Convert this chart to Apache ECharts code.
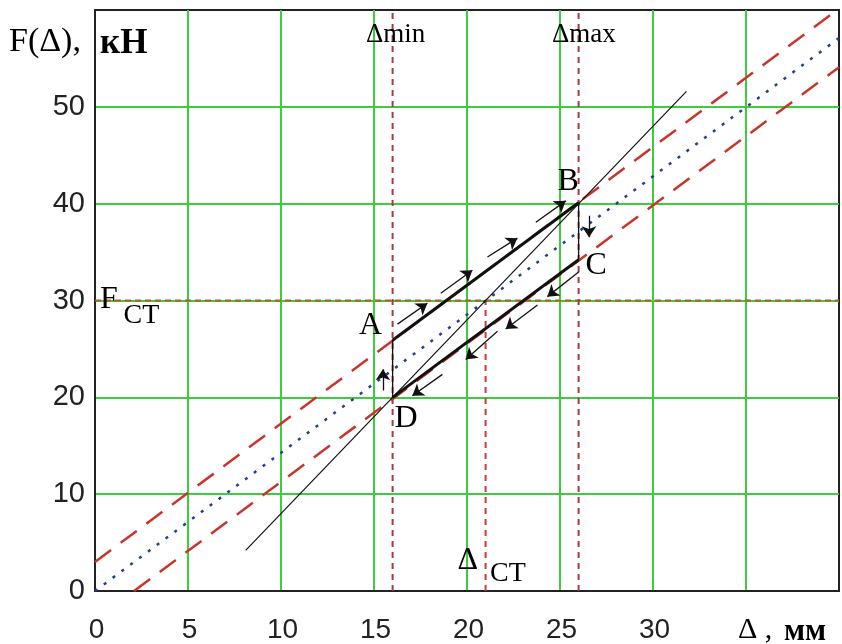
<!DOCTYPE html>
<html>
<head>
<meta charset="utf-8">
<script src="https://cdn.jsdelivr.net/npm/echarts@6/dist/echarts.min.js"></script>
<style>
html,body{margin:0;padding:0;background:#fff;}
#c{width:842px;height:644px;}
</style>
</head>
<body>
<div id="c"></div>
<script>
// ---- data ----
const xTicks = [0, 5, 10, 15, 20, 25, 30];
const yTicks = [0, 10, 20, 30, 40, 50];
const blueLine = [[0, 0], [40, 57.1]];
const redUpper = [[0, 3], [39.9, 60]];
const redLower = [[2.1, 0], [40, 54.1]];
const stiffLine = [[8.1, 4.2], [31.8, 51.6]];
const lineAB = [[16, 25.9], [26, 40.1]];
const lineCD = [[26, 34.2], [16, 20.0]];
const lineAD = [[16, 20.0], [16, 25.9]];
const lineBC = [[26, 40.1], [26, 34.2]];
const deltaMinLine = [[16, 0], [16, 60]];
const deltaMaxLine = [[26, 0], [26, 60]];
const deltaStLine = [[21, 0], [21, 30]];
const fStLine = [[0, 30], [40, 30]];
const arrowsUp = [
  [[16.26, 27.56], [17.87, 29.71]],
  [[18.59, 30.74], [20.29, 33.12]],
  [[21.10, 34.49], [22.71, 36.44]],
  [[23.70, 38.08], [25.31, 40.29]]
];
const arrowsDown = [
  [[26.02, 32.96], [24.32, 30.40]],
  [[23.79, 29.54], [22.08, 27.05]],
  [[21.64, 26.82], [19.93, 23.91]],
  [[18.68, 22.37], [17.06, 20.16]]
];
const arrowsVertical = [
  [[15.48, 20.71], [15.48, 22.89]],
  [[26.56, 38.75], [26.56, 36.54]]
];
const pointLabels = [
  ['A', 14.82, 27.36],
  ['B', 25.44, 42.33],
  ['C', 26.95, 33.63],
  ['D', 16.73, 17.79]
];
const lineLabels = [
  ['Δmin', 16.16, 57.4, 27],
  ['Δmax', 26.28, 57.4, 27],
  ['F', 0.75, 30.07, 32],
  ['CT', 2.5, 28.43, 28],
  ['Δ', 20.04, 3.10, 32],
  ['CT', 22.2, 1.82, 28]
];

const serif = '"Liberation Serif", "DejaVu Serif", serif';
const sans = '"Liberation Sans", "DejaVu Sans", sans-serif';

function seg(name, data, color, width, type, z) {
  return {
    name: name, type: 'line', data: data, showSymbol: false, symbol: 'none',
    lineStyle: { color: color, width: width, type: type },
    silent: true, animation: false, z: z || 2
  };
}

const chart = echarts.init(document.getElementById('c'), null, { renderer: 'canvas' });
chart.setOption({
  animation: false,
  backgroundColor: '#fff',
  grid: {
    left: 95, right: 2, top: 10, bottom: 49,
    show: true, borderColor: '#222', borderWidth: 2, backgroundColor: '#fff'
  },
  xAxis: {
    type: 'value', min: 0, max: 40, interval: 5,
    axisLine: { show: true, lineStyle: { color: '#222', width: 2 } },
    axisTick: { show: false },
    splitLine: { show: true, showMinLine: false, showMaxLine: false, lineStyle: { color: '#3ccc3c', width: 2 } },
    axisLabel: {
      margin: 25, fontSize: 28, fontFamily: sans, color: '#222',
      padding: [0, 0, 0, 3],
      formatter: v => xTicks.indexOf(v) >= 0 ? String(v) : ''
    }
  },
  yAxis: {
    type: 'value', min: 0, max: 60, interval: 10,
    axisLine: { show: true, lineStyle: { color: '#222', width: 2 } },
    axisTick: { show: false },
    splitLine: { show: true, showMinLine: false, showMaxLine: false, lineStyle: { color: '#3ccc3c', width: 2 } },
    axisLabel: {
      margin: 10, fontSize: 29, fontFamily: sans, color: '#222',
      formatter: v => yTicks.indexOf(v) >= 0 ? String(v) : ''
    }
  },
  graphic: [
    { type: 'text', left: 9, top: 25, style: { text: 'F(Δ),', font: '34px ' + serif, fill: '#000' } },
    { type: 'text', left: 100, top: 26, style: { text: 'кН', font: 'bold 35px ' + serif, fill: '#000' } },
    { type: 'text', left: 738, top: 615, style: { text: 'Δ ,', font: '30px ' + serif, fill: '#000' } },
    { type: 'text', left: 784, top: 616, style: { text: 'мм', font: 'bold 31px ' + serif, fill: '#000' } }
  ],
  series: [
    seg('fst', fStLine, '#c0552a', 2, [6, 4], 3),
    seg('dmin', deltaMinLine, '#a83a44', 2, [6, 5], 3),
    seg('dmax', deltaMaxLine, '#a83a44', 2, [6, 5], 3),
    seg('dst', deltaStLine, '#c83a44', 2, [6, 5], 3),
    seg('blue', blueLine, '#1f3f95', 2.5, [3, 8], 4),
    seg('redU', redUpper, '#c8352a', 2.5, [20, 12], 4),
    seg('redL', redLower, '#c8352a', 2.5, [20, 12], 4),
    seg('stiff', stiffLine, '#111', 1.2, 'solid', 5),
    seg('AB', lineAB, '#111', 3, 'solid', 6),
    seg('CD', lineCD, '#111', 3, 'solid', 6),
    seg('AD', lineAD, '#111', 1.3, 'solid', 6),
    seg('BC', lineBC, '#111', 1.3, 'solid', 6),
    {
      type: 'lines', coordinateSystem: 'cartesian2d', polyline: false, silent: true, z: 7,
      symbol: ['none', 'arrow'], symbolSize: 11,
      lineStyle: { color: '#111', width: 1.3, opacity: 1 },
      data: arrowsUp.concat(arrowsDown).concat(arrowsVertical).map(c => ({ coords: c }))
    },
    {
      type: 'scatter', silent: true, symbolSize: 0, z: 8,
      data: pointLabels.map(p => ({ value: [p[1], p[2]], name: p[0] })),
      label: {
        show: true, position: 'inside', formatter: p => p.name,
        fontFamily: serif, fontSize: 32, color: '#000', textBorderWidth: 0, opacity: 1
      }
    },
    {
      type: 'scatter', silent: true, symbolSize: 0, z: 8,
      data: lineLabels.map(p => ({
        value: [p[1], p[2]], name: p[0],
        label: { fontSize: p[3] }
      })),
      label: {
        show: true, position: 'inside', formatter: p => p.name,
        fontFamily: serif, color: '#000', textBorderWidth: 0, opacity: 1
      }
    }
  ]
});
</script>
</body>
</html>
